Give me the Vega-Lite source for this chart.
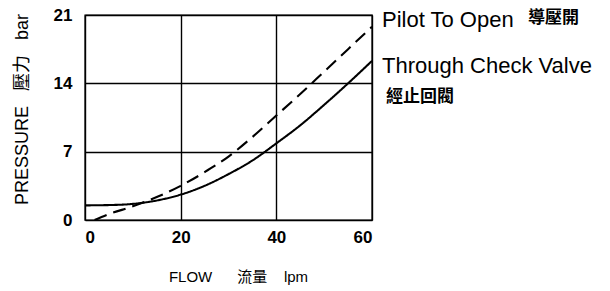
{
  "$schema": "https://vega.github.io/schema/vega-lite/v6.json",
  "width": 287,
  "height": 205,
  "autosize": "none",
  "padding": {"left": 85, "top": 15, "right": 238, "bottom": 71},
  "background": "white",
  "config": {
    "font": "Liberation Sans, Arial, Noto Sans CJK TC",
    "view": {"stroke": "black", "strokeWidth": 1.4}
  },
  "datasets": {
    "curves": [
      {"flow": 0, "pressure": 1.5, "series": "Through Check Valve"},
      {"flow": 5, "pressure": 1.53, "series": "Through Check Valve"},
      {"flow": 10, "pressure": 1.65, "series": "Through Check Valve"},
      {"flow": 15, "pressure": 2.0, "series": "Through Check Valve"},
      {"flow": 20, "pressure": 2.6, "series": "Through Check Valve"},
      {"flow": 25, "pressure": 3.5, "series": "Through Check Valve"},
      {"flow": 30, "pressure": 4.7, "series": "Through Check Valve"},
      {"flow": 35, "pressure": 6.1, "series": "Through Check Valve"},
      {"flow": 40, "pressure": 7.85, "series": "Through Check Valve"},
      {"flow": 45, "pressure": 9.7, "series": "Through Check Valve"},
      {"flow": 50, "pressure": 11.8, "series": "Through Check Valve"},
      {"flow": 55, "pressure": 14.0, "series": "Through Check Valve"},
      {"flow": 60, "pressure": 16.3, "series": "Through Check Valve"},
      {"flow": 2, "pressure": 0, "series": "Pilot To Open"},
      {"flow": 5, "pressure": 0.6, "series": "Pilot To Open"},
      {"flow": 10, "pressure": 1.4, "series": "Pilot To Open"},
      {"flow": 15, "pressure": 2.35, "series": "Pilot To Open"},
      {"flow": 20, "pressure": 3.5, "series": "Pilot To Open"},
      {"flow": 25, "pressure": 4.9, "series": "Pilot To Open"},
      {"flow": 30, "pressure": 6.5, "series": "Pilot To Open"},
      {"flow": 35, "pressure": 8.5, "series": "Pilot To Open"},
      {"flow": 40, "pressure": 10.7, "series": "Pilot To Open"},
      {"flow": 45, "pressure": 12.9, "series": "Pilot To Open"},
      {"flow": 50, "pressure": 15.2, "series": "Pilot To Open"},
      {"flow": 55, "pressure": 17.5, "series": "Pilot To Open"},
      {"flow": 60, "pressure": 19.8, "series": "Pilot To Open"}
    ]
  },
  "layer": [
    {
      "data": {"name": "curves"},
      "mark": {"type": "line", "color": "black", "strokeWidth": 2.1, "interpolate": "monotone"},
      "encoding": {
        "x": {
          "field": "flow", "type": "quantitative",
          "scale": {"domain": [0, 60], "nice": false, "zero": false},
          "axis": {
            "values": [0, 20, 40, 60], "grid": true, "gridColor": "black", "gridWidth": 1.4, "gridOpacity": 1,
            "domain": false, "ticks": false,
            "labelFontSize": 17, "labelFontWeight": "bold", "labelColor": "black", "labelPadding": 9,
            "title": "FLOW\u00a0\u00a0\u00a0\u00a0\u00a0\u00a0流量\u00a0\u00a0\u00a0\u00a0lpm",
            "titleFontSize": 15, "titleFontWeight": "normal", "titleColor": "black",
            "titlePadding": 24, "titleX": 153
          }
        },
        "y": {
          "field": "pressure", "type": "quantitative",
          "scale": {"domain": [0, 21], "nice": false, "zero": false},
          "axis": {
            "values": [0, 7, 14, 21], "grid": true, "gridColor": "black", "gridWidth": 1.4, "gridOpacity": 1,
            "domain": false, "ticks": false,
            "labelFontSize": 17, "labelFontWeight": "bold", "labelColor": "black", "labelPadding": 13,
            "title": "PRESSURE\u00a0\u00a0\u00a0壓力\u00a0\u00a0\u00a0bar",
            "titleFontSize": 18, "titleFontWeight": "normal", "titleColor": "black",
            "titlePadding": 22, "titleY": 94
          }
        },
        "strokeDash": {
          "field": "series", "type": "nominal",
          "scale": {"domain": ["Pilot To Open", "Through Check Valve"], "range": [[13, 7], [1, 0]]},
          "legend": null
        }
      }
    },
    {
      "data": {"values": [
        {"label": "Pilot To Open", "flow": 60, "pressure": 19.8},
        {"label": "Through Check Valve", "flow": 60, "pressure": 15.03}
      ]},
      "mark": {"type": "text", "align": "left", "baseline": "alphabetic", "dx": 10, "fontSize": 22, "color": "black", "font": "Liberation Sans, Arial"},
      "encoding": {
        "x": {"field": "flow", "type": "quantitative"},
        "y": {"field": "pressure", "type": "quantitative"},
        "text": {"field": "label"}
      }
    },
    {
      "data": {"values": [{"label": "導壓開", "flow": 60, "pressure": 20.74}]},
      "mark": {"type": "text", "align": "left", "baseline": "middle", "dx": 156, "fontSize": 17, "fontWeight": "bold", "color": "black", "font": "Noto Sans CJK TC"},
      "encoding": {
        "x": {"field": "flow", "type": "quantitative"},
        "y": {"field": "pressure", "type": "quantitative"},
        "text": {"field": "label"}
      }
    },
    {
      "data": {"values": [{"label": "經止回閥", "flow": 60, "pressure": 12.63}]},
      "mark": {"type": "text", "align": "left", "baseline": "middle", "dx": 14, "fontSize": 17, "fontWeight": "bold", "color": "black", "font": "Noto Sans CJK TC"},
      "encoding": {
        "x": {"field": "flow", "type": "quantitative"},
        "y": {"field": "pressure", "type": "quantitative"},
        "text": {"field": "label"}
      }
    }
  ]
}
